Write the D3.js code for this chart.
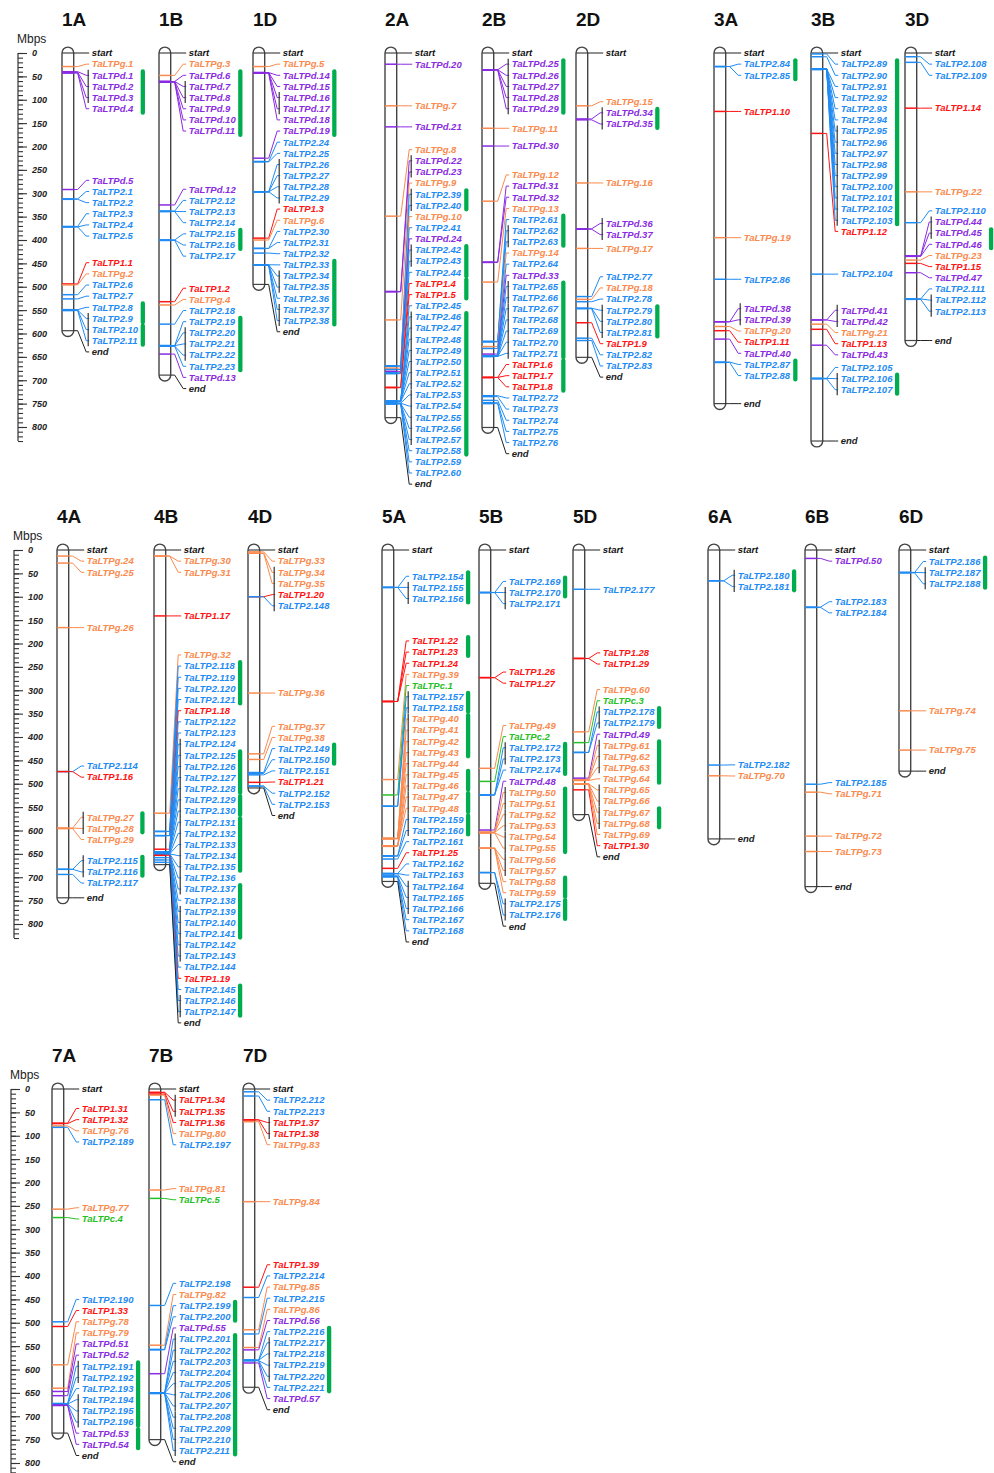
<!DOCTYPE html>
<html>
<head>
<meta charset="utf-8">
<script src="https://cdn.jsdelivr.net/npm/d3@7"></script>
<style>
body { margin: 0; background: #fff; }
text { font-family: "Liberation Sans", Arial, sans-serif; }
</style>
</head>
<body>
<div id="chart"></div>
<script>
// chromosomes and their lengths (Mbps)
const chromNames = ["1A","1B","1D","2A","2B","2D","3A","3B","3D","4A","4B","4D","5A","5B","5D","6A","6B","6D","7A","7B","7D"]
const chromLengths = [594,689,495,780,801,651,750,830,615,744,673,509,709,713,566,618,720,473,736,750,638]

// genes on each chromosome: [name, position in Mbps]
const genes1A = [["TaLTPg.1",29],["TaLTPd.1",40],["TaLTPd.2",41],["TaLTPd.3",42],["TaLTPd.4",43],
  ["TaLTPd.5",292],["TaLTP2.1",312],["TaLTP2.2",313],["TaLTP2.3",371],["TaLTP2.4",372],["TaLTP2.5",372],
  ["TaLTP1.1",494],["TaLTPg.2",496],["TaLTP2.6",517],["TaLTP2.7",526],
  ["TaLTP2.8",549],["TaLTP2.9",550],["TaLTP2.10",550],["TaLTP2.11",551]]
const genes1B = [["TaLTPg.3",48],["TaLTPd.6",61],["TaLTPd.7",61],["TaLTPd.8",61],["TaLTPd.9",62],["TaLTPd.10",62],["TaLTPd.11",62],
  ["TaLTPd.12",325],["TaLTP2.12",338],["TaLTP2.13",339],["TaLTP2.14",339],
  ["TaLTP2.15",400],["TaLTP2.16",400],["TaLTP2.17",401],
  ["TaLTP1.2",532],["TaLTPg.4",539],["TaLTP2.18",580],
  ["TaLTP2.19",626],["TaLTP2.20",626],["TaLTP2.21",626],["TaLTP2.22",627],["TaLTP2.23",627],["TaLTPd.13",644]]
const genes1D = [["TaLTPg.5",29],["TaLTPd.14",42],["TaLTPd.15",42],["TaLTPd.16",42],["TaLTPd.17",43],["TaLTPd.18",43],
  ["TaLTPd.19",225],["TaLTP2.24",232],["TaLTP2.25",233],
  ["TaLTP2.26",297],["TaLTP2.27",297],["TaLTP2.28",297],["TaLTP2.29",297],
  ["TaLTP1.3",396],["TaLTPg.6",400],["TaLTP2.30",418],["TaLTP2.31",418],["TaLTP2.32",428],
  ["TaLTP2.33",453],["TaLTP2.34",453],["TaLTP2.35",453],["TaLTP2.36",454],["TaLTP2.37",454],["TaLTP2.38",454]]
const genes2A = [["TaLTPd.20",24],["TaLTPg.7",113],["TaLTPd.21",158],["TaLTPg.8",349],
  ["TaLTPd.22",510],["TaLTPd.23",511],["TaLTPg.9",571],
  ["TaLTP2.39",669],["TaLTP2.40",670],["TaLTPg.10",674],["TaLTP2.41",677],["TaLTPd.24",681],
  ["TaLTP2.42",684],["TaLTP2.43",685],["TaLTP2.44",686],["TaLTP1.4",715],["TaLTP1.5",716],
  ["TaLTP2.45",745],["TaLTP2.46",745],["TaLTP2.47",745],["TaLTP2.48",745],["TaLTP2.49",745],["TaLTP2.50",745],
  ["TaLTP2.51",745],["TaLTP2.52",746],["TaLTP2.53",749],["TaLTP2.54",749],["TaLTP2.55",750],["TaLTP2.56",750],
  ["TaLTP2.57",750],["TaLTP2.58",750],["TaLTP2.59",750],["TaLTP2.60",750]]
const genes2B = [["TaLTPd.25",36],["TaLTPd.26",36],["TaLTPd.27",36],["TaLTPd.28",36],["TaLTPd.29",36],
  ["TaLTPg.11",161],["TaLTPd.30",199],["TaLTPg.12",317],["TaLTPd.31",447],["TaLTPd.32",448],["TaLTPg.13",490],
  ["TaLTP2.61",617],["TaLTP2.62",617],["TaLTP2.63",618],["TaLTPg.14",628],["TaLTP2.64",632],["TaLTPd.33",644],
  ["TaLTP2.65",648],["TaLTP2.66",648],["TaLTP2.67",648],["TaLTP2.68",648],["TaLTP2.69",649],["TaLTP2.70",649],["TaLTP2.71",649],
  ["TaLTP1.6",694],["TaLTP1.7",694],["TaLTP1.8",694],
  ["TaLTP2.72",733],["TaLTP2.73",735],["TaLTP2.74",743],["TaLTP2.75",748],["TaLTP2.76",750]]
const genes2D = [["TaLTPg.15",113],["TaLTPd.34",141],["TaLTPd.35",143],["TaLTPg.16",278],
  ["TaLTPd.36",376],["TaLTPd.37",377],["TaLTPg.17",418],
  ["TaLTP2.77",521],["TaLTPg.18",527],["TaLTP2.78",532],["TaLTP2.79",546],["TaLTP2.80",546],["TaLTP2.81",547],
  ["TaLTP1.9",577],["TaLTP2.82",610],["TaLTP2.83",615]]
const genes3A = [["TaLTP2.84",29],["TaLTP2.85",29],["TaLTP1.10",125],["TaLTPg.19",395],["TaLTP2.86",484],
  ["TaLTPd.38",575],["TaLTPd.39",575],["TaLTPg.20",585],["TaLTP1.11",594],["TaLTPd.40",612],
  ["TaLTP2.87",661],["TaLTP2.88",662]]
const genes3B = [["TaLTP2.89",2],["TaLTP2.90",8],["TaLTP2.91",34],["TaLTP2.92",34],["TaLTP2.93",34],["TaLTP2.94",34],
  ["TaLTP2.95",34],["TaLTP2.96",34],["TaLTP2.97",34],["TaLTP2.98",34],["TaLTP2.99",34],["TaLTP2.100",35],
  ["TaLTP2.101",35],["TaLTP2.102",35],["TaLTP2.103",35],["TaLTP1.12",172],["TaLTP2.104",473],
  ["TaLTPd.41",571],["TaLTPd.42",571],["TaLTPg.21",580],["TaLTP1.13",591],["TaLTPd.43",625],
  ["TaLTP2.105",696],["TaLTP2.106",696],["TaLTP2.107",697]]
const genes3D = [["TaLTP2.108",8],["TaLTP2.109",20],["TaLTP1.14",118],["TaLTPg.22",297],["TaLTP2.110",363],
  ["TaLTPd.44",434],["TaLTPd.45",434],["TaLTPd.46",435],["TaLTPg.23",443],["TaLTP1.15",450],["TaLTPd.47",470],
  ["TaLTP2.111",526],["TaLTP2.112",526],["TaLTP2.113",527]]
const genes4A = [["TaLTPg.24",13],["TaLTPg.25",28],["TaLTPg.26",166],["TaLTP2.114",474],["TaLTP1.16",474],
  ["TaLTPg.27",595],["TaLTPg.28",595],["TaLTPg.29",596],["TaLTP2.115",683],["TaLTP2.116",683],["TaLTP2.117",694]]
const genes4B = [["TaLTPg.30",13],["TaLTPg.31",13],["TaLTP1.17",141],["TaLTPg.32",563],
  ["TaLTP2.118",602],["TaLTP2.119",602],["TaLTP2.120",611],["TaLTP2.121",611],["TaLTP1.18",640],
  ["TaLTP2.122",646],["TaLTP2.123",646],["TaLTP2.124",646],["TaLTP2.125",646],["TaLTP2.126",646],
  ["TaLTP2.127",646],["TaLTP2.128",646],["TaLTP2.129",646],["TaLTP2.130",646],["TaLTP2.131",647],
  ["TaLTP2.132",650],["TaLTP2.133",650],["TaLTP2.134",650],["TaLTP2.135",650],["TaLTP2.136",650],
  ["TaLTP2.137",650],["TaLTP2.138",650],["TaLTP2.139",650],["TaLTP2.140",650],["TaLTP2.141",650],
  ["TaLTP2.142",651],["TaLTP2.143",651],["TaLTP2.144",651],["TaLTP1.19",653],
  ["TaLTP2.145",658],["TaLTP2.146",663],["TaLTP2.147",668]]
const genes4D = [["TaLTPg.33",4],["TaLTPg.34",7],["TaLTPg.35",7],["TaLTP1.20",100],["TaLTP2.148",100],
  ["TaLTPg.36",306],["TaLTPg.37",436],["TaLTPg.38",448],["TaLTP2.149",476],["TaLTP2.150",478],["TaLTP2.151",481],
  ["TaLTP1.21",497],["TaLTP2.152",505],["TaLTP2.153",505]]
const genes5A = [["TaLTP2.154",80],["TaLTP2.155",80],["TaLTP2.156",80],["TaLTP1.22",324],["TaLTP1.23",324],["TaLTP1.24",324],
  ["TaLTPg.39",491],["TaLTPc.1",524],["TaLTP2.157",548],["TaLTP2.158",548],
  ["TaLTPg.40",617],["TaLTPg.41",617],["TaLTPg.42",617],["TaLTPg.43",617],["TaLTPg.44",618],
  ["TaLTPg.45",633],["TaLTPg.46",633],["TaLTPg.47",633],["TaLTPg.48",634],
  ["TaLTP2.159",654],["TaLTP2.160",655],["TaLTP2.161",661],["TaLTP1.25",681],
  ["TaLTP2.162",692],["TaLTP2.163",692],["TaLTP2.164",693],["TaLTP2.165",697],["TaLTP2.166",698],["TaLTP2.167",699],["TaLTP2.168",699]]
const genes5B = [["TaLTP2.169",91],["TaLTP2.170",91],["TaLTP2.171",91],["TaLTP1.26",273],["TaLTP1.27",273],
  ["TaLTPg.49",467],["TaLTPc.2",495],["TaLTP2.172",524],["TaLTP2.173",524],["TaLTP2.174",524],["TaLTPd.48",599],
  ["TaLTPg.50",604],["TaLTPg.51",604],["TaLTPg.52",604],["TaLTPg.53",604],["TaLTPg.54",605],["TaLTPg.55",605],
  ["TaLTPg.56",638],["TaLTPg.57",638],["TaLTPg.58",638],["TaLTPg.59",638],["TaLTP2.175",690],["TaLTP2.176",690]]
const genes5D = [["TaLTP2.177",84],["TaLTP1.28",232],["TaLTP1.29",232],["TaLTPg.60",389],["TaLTPc.3",412],
  ["TaLTP2.178",433],["TaLTP2.179",433],["TaLTPd.49",488],
  ["TaLTPg.61",492],["TaLTPg.62",492],["TaLTPg.63",492],["TaLTPg.64",493],["TaLTPg.65",500],["TaLTPg.66",500],
  ["TaLTPg.67",500],["TaLTPg.68",501],["TaLTPg.69",501],["TaLTP1.30",513]]
const genes6A = [["TaLTP2.180",66],["TaLTP2.181",66],["TaLTP2.182",460],["TaLTPg.70",483]]
const genes6B = [["TaLTPd.50",18],["TaLTP2.183",122],["TaLTP2.184",123],["TaLTP2.185",501],["TaLTPg.71",518],
  ["TaLTPg.72",612],["TaLTPg.73",645]]
const genes6D = [["TaLTP2.186",48],["TaLTP2.187",48],["TaLTP2.188",49],["TaLTPg.74",344],["TaLTPg.75",428]]
const genes7A = [["TaLTP1.31",73],["TaLTP1.32",74],["TaLTPg.76",79],["TaLTP2.189",82],["TaLTPg.77",257],["TaLTPc.4",275],
  ["TaLTP2.190",498],["TaLTP1.33",508],["TaLTPg.78",590],["TaLTPg.79",640],["TaLTPd.51",647],["TaLTPd.52",656],
  ["TaLTP2.191",673],["TaLTP2.192",673],["TaLTP2.193",673],["TaLTP2.194",674],["TaLTP2.195",674],["TaLTP2.196",674],
  ["TaLTPd.53",676],["TaLTPd.54",677]]
const genes7B = [["TaLTP1.34",7],["TaLTP1.35",8],["TaLTP1.36",11],["TaLTPg.80",13],["TaLTP2.197",23],
  ["TaLTPg.81",216],["TaLTPc.5",234],["TaLTP2.198",463],["TaLTPg.82",548],["TaLTP2.199",557],["TaLTP2.200",558],
  ["TaLTPd.55",609],["TaLTP2.201",650],["TaLTP2.202",650],["TaLTP2.203",650],["TaLTP2.204",650],["TaLTP2.205",650],
  ["TaLTP2.206",650],["TaLTP2.207",650],["TaLTP2.208",651],["TaLTP2.209",651],["TaLTP2.210",651],["TaLTP2.211",651]]
const genes7D = [["TaLTP2.212",6],["TaLTP2.213",15],["TaLTP1.37",66],["TaLTP1.38",66],["TaLTPg.83",70],["TaLTPg.84",241],
  ["TaLTP1.39",424],["TaLTP2.214",446],["TaLTPg.85",515],["TaLTP2.215",524],["TaLTPg.86",553],["TaLTPd.56",558],
  ["TaLTP2.216",580],["TaLTP2.217",580],["TaLTP2.218",580],["TaLTP2.219",581],["TaLTP2.220",581],["TaLTP2.221",581],
  ["TaLTPd.57",586]]

const geneSets = [genes1A,genes1B,genes1D,genes2A,genes2B,genes2D,genes3A,genes3B,genes3D,
  genes4A,genes4B,genes4D,genes5A,genes5B,genes5D,genes6A,genes6B,genes6D,genes7A,genes7B,genes7D]

// segmental duplication brackets: [chromosome, first gene, last gene]
const segmental = [
  ["1A","TaLTPd.1","TaLTPd.3"],["1A","TaLTP2.9","TaLTP2.11"],
  ["1B","TaLTPd.7","TaLTPd.8"],["1B","TaLTP2.20","TaLTP2.22"],
  ["1D","TaLTPd.16","TaLTPd.17"],["1D","TaLTP2.26","TaLTP2.29"],["1D","TaLTP2.34","TaLTP2.35"],["1D","TaLTP2.37","TaLTP2.38"],
  ["2A","TaLTPd.22","TaLTPd.23"],["2A","TaLTP2.39","TaLTP2.40"],["2A","TaLTP2.42","TaLTP2.43"],["2A","TaLTP2.46","TaLTP2.52"],["2A","TaLTP2.53","TaLTP2.57"],
  ["2B","TaLTPd.25","TaLTPd.29"],["2B","TaLTP2.62","TaLTP2.63"],["2B","TaLTP2.65","TaLTP2.66"],["2B","TaLTP2.67","TaLTP2.71"],
  ["2D","TaLTPd.34","TaLTPd.35"],["2D","TaLTPd.36","TaLTPd.37"],["2D","TaLTP2.79","TaLTP2.81"],
  ["3A","TaLTPd.38","TaLTPd.39"],
  ["3B","TaLTP2.95","TaLTP2.96"],["3B","TaLTP2.97","TaLTP2.103"],["3B","TaLTPd.41","TaLTPd.42"],["3B","TaLTP2.106","TaLTP2.107"],
  ["3D","TaLTPd.44","TaLTPd.45"],["3D","TaLTP2.112","TaLTP2.113"],
  ["4A","TaLTPg.27","TaLTPg.28"],["4A","TaLTP2.115","TaLTP2.116"],
  ["4B","TaLTP2.124","TaLTP2.126"],["4B","TaLTP2.127","TaLTP2.131"],["4B","TaLTP2.132","TaLTP2.137"],["4B","TaLTP2.139","TaLTP2.141"],["4B","TaLTP2.142","TaLTP2.143"],["4B","TaLTP2.146","TaLTP2.147"],
  ["4D","TaLTPg.34","TaLTPg.35"],["4D","TaLTP1.20","TaLTP2.148"],
  ["5A","TaLTP2.155","TaLTP2.156"],["5A","TaLTP2.157","TaLTP2.158"],["5A","TaLTPg.40","TaLTPg.43"],["5A","TaLTPg.44","TaLTPg.46"],["5A","TaLTPg.47","TaLTPg.48"],["5A","TaLTP2.159","TaLTP2.160"],["5A","TaLTP2.164","TaLTP2.166"],
  ["5B","TaLTP2.170","TaLTP2.171"],["5B","TaLTP2.172","TaLTP2.173"],["5B","TaLTPg.50","TaLTPg.51"],["5B","TaLTPg.52","TaLTPg.53"],["5B","TaLTPg.54","TaLTPg.55"],["5B","TaLTPg.56","TaLTPg.57"],["5B","TaLTP2.175","TaLTP2.176"],
  ["5D","TaLTP2.178","TaLTP2.179"],["5D","TaLTPg.61","TaLTPg.63"],["5D","TaLTPg.65","TaLTPg.66"],["5D","TaLTPg.67","TaLTPg.68"],
  ["6A","TaLTP2.180","TaLTP2.181"],["6D","TaLTP2.187","TaLTP2.188"],
  ["7A","TaLTP2.191","TaLTP2.192"],["7A","TaLTP2.194","TaLTP2.196"],
  ["7B","TaLTP1.34","TaLTP1.35"],["7B","TaLTP2.201","TaLTP2.203"],["7B","TaLTP2.204","TaLTP2.207"],["7B","TaLTP2.208","TaLTP2.211"],
  ["7D","TaLTP1.37","TaLTP1.38"],["7D","TaLTP2.217","TaLTP2.218"],["7D","TaLTP2.219","TaLTP2.220"]
]

// tandem duplication clusters (green bars): [chromosome, first gene, last gene]
const tandem = [
  ["1A","TaLTPd.1","TaLTPd.4"],["1A","TaLTP2.8","TaLTP2.9"],["1A","TaLTP2.10","TaLTP2.11"],
  ["1B","TaLTPd.6","TaLTPd.11"],["1B","TaLTP2.15","TaLTP2.16"],["1B","TaLTP2.19","TaLTP2.23"],
  ["1D","TaLTPd.14","TaLTPd.19"],["1D","TaLTP2.33","TaLTP2.38"],
  ["2A","TaLTP2.39","TaLTP2.40"],["2A","TaLTP2.42","TaLTP2.44"],["2A","TaLTP1.4","TaLTP1.5"],["2A","TaLTP2.46","TaLTP2.58"],
  ["2B","TaLTPd.25","TaLTPd.29"],["2B","TaLTP2.61","TaLTP2.63"],["2B","TaLTP2.65","TaLTP2.71"],["2B","TaLTP1.6","TaLTP1.8"],
  ["2D","TaLTPd.34","TaLTPd.35"],["2D","TaLTP2.79","TaLTP2.81"],
  ["3A","TaLTP2.84","TaLTP2.85"],["3A","TaLTP2.87","TaLTP2.88"],
  ["3B","TaLTP2.89","TaLTP2.103"],["3B","TaLTP2.106","TaLTP2.107"],
  ["3D","TaLTPd.45","TaLTPd.46"],
  ["4A","TaLTPg.27","TaLTPg.28"],["4A","TaLTP2.115","TaLTP2.116"],
  ["4B","TaLTP2.118","TaLTP2.121"],["4B","TaLTP2.125","TaLTP2.128"],["4B","TaLTP2.129","TaLTP2.130"],["4B","TaLTP2.131","TaLTP2.135"],["4B","TaLTP2.137","TaLTP2.141"],["4B","TaLTP2.145","TaLTP2.147"],
  ["4D","TaLTP2.149","TaLTP2.150"],
  ["5A","TaLTP2.154","TaLTP2.156"],["5A","TaLTP1.22","TaLTP1.23"],["5A","TaLTP2.157","TaLTP2.158"],["5A","TaLTPg.40","TaLTPg.43"],["5A","TaLTPg.45","TaLTPg.46"],["5A","TaLTPg.47","TaLTPg.48"],["5A","TaLTP2.159","TaLTP2.160"],
  ["5B","TaLTP2.169","TaLTP2.170"],["5B","TaLTP2.172","TaLTP2.174"],["5B","TaLTPg.50","TaLTPg.55"],["5B","TaLTPg.58","TaLTPg.59"],["5B","TaLTP2.175","TaLTP2.176"],
  ["5D","TaLTP2.178","TaLTP2.179"],["5D","TaLTPg.61","TaLTPg.64"],["5D","TaLTPg.67","TaLTPg.68"],
  ["6A","TaLTP2.180","TaLTP2.181"],["6D","TaLTP2.186","TaLTP2.188"],
  ["7A","TaLTP2.191","TaLTP2.196"],["7A","TaLTPd.53","TaLTPd.54"],
  ["7B","TaLTP2.199","TaLTP2.200"],["7B","TaLTP2.201","TaLTP2.211"],
  ["7D","TaLTP2.216","TaLTP2.221"]
]

const axisMax = 830

// layout
const width = 994, height = 1473
const rowZero = [53, 550, 1089]       // y of 0 Mbps in each figure row
const axisX = [18, 14, 11]
const groupX = [[62, 385, 714], [57, 382, 708], [52]]
const colStep = [0, 97, 191]
const pxPerMb = 0.4675
const chrW = 11.7
const labelGap = 18
const spacing = 11.15

function geneColor(name) {
  if (name.startsWith("TaLTP1.")) return "#ff1414"
  if (name.startsWith("TaLTP2.")) return "#1f8bf3"
  if (name.startsWith("TaLTPd")) return "#8a2be2"
  if (name.startsWith("TaLTPg")) return "#fa8a4e"
  if (name.startsWith("TaLTPc")) return "#26c026"
  return "#222"
}

// group overlapping labels, centre each group on the middle of its loci,
// keep the first label below the fixed "start" label
function placeLabels(desired, top, s) {
  let cl = desired.map((d, i) => ({ lo: d, hi: d, start: i, n: 1 }))
  let topOf = c => {
    let t = (c.lo + c.hi) / 2 - (c.n - 1) * s / 2
    return Math.max(t, top + s + c.start * s)
  }
  let merged = true
  while (merged) {
    merged = false
    for (let k = 0; k < cl.length - 1; k++) {
      let a = cl[k], b = cl[k + 1]
      if (topOf(a) + a.n * s > topOf(b) + 1e-6) {
        cl.splice(k, 2, { lo: Math.min(a.lo, b.lo), hi: Math.max(a.hi, b.hi), start: a.start, n: a.n + b.n })
        merged = true
        break
      }
    }
  }
  let out = []
  cl.forEach(c => {
    let t = topOf(c)
    for (let k = 0; k < c.n; k++) out.push(t + k * s)
  })
  return out
}

let svg = d3.select("#chart")
  .append("svg")
  .attr("width", width)
  .attr("height", height)

let yScales = rowZero.map(y0 => d3.scaleLinear().domain([0, 800]).range([y0, y0 + 800 * pxPerMb]))

// Mbps axes
yScales.forEach((y, r) => {
  let g = svg.append("g").attr("transform", "translate(" + axisX[r] + ",0)")
  g.append("text")
    .attr("x", -1).attr("y", rowZero[r] - 10)
    .style("font-size", "12px").style("fill", "#222")
    .text("Mbps")
  g.append("line")
    .attr("y1", y(0)).attr("y2", y(axisMax))
    .attr("stroke", "#333").attr("stroke-width", 1.2)
  g.append("g")
    .call(d3.axisRight(y).tickValues(d3.range(0, axisMax + 1, 10)).tickSize(5).tickFormat(""))
    .call(a => a.select(".domain").remove())
  g.append("g")
    .call(d3.axisRight(y).tickValues(d3.range(0, 801, 50)).tickSize(9).tickPadding(5))
    .call(a => a.select(".domain").remove())
    .call(a => a.selectAll("text")
      .style("font-size", "9px").style("font-weight", "bold").style("font-style", "italic")
      .style("font-family", "'Liberation Sans', Arial, sans-serif").attr("fill", "#222"))
  g.selectAll(".tick line").attr("stroke", "#333").attr("stroke-width", 1.1)
})

chromNames.forEach((name, i) => {
  let group = Math.floor(i / 3), row = Math.floor(group / 3)
  let xl = groupX[row][group % 3] + colStep[i % 3]
  let xr = xl + chrW, rad = chrW / 2
  let y = yScales[row]
  let len = chromLengths[i]
  let genes = geneSets[i]
  let labelX = xr + labelGap
  let g = svg.append("g").attr("class", "chrom")

  g.append("text")
    .attr("x", xl).attr("y", y(0) - 27.3)
    .style("font-size", "19px").style("font-weight", "bold").attr("fill", "#111")
    .text(name)

  // chromosome body
  let y0 = y(0), y1 = y(len)
  g.append("path")
    .attr("d", "M" + xl + "," + y0 + "V" + y1 + "A" + rad + "," + rad + " 0 0 0 " + xr + "," + y1 +
      "V" + y0 + "A" + rad + "," + rad + " 0 0 0 " + xl + "," + y0 + "Z")
    .attr("fill", "#fff").attr("stroke", "#444").attr("stroke-width", 1.4)
  g.selectAll(".cap").data([0, len]).enter().append("line")
    .attr("x1", xl).attr("x2", xr).attr("y1", d => y(d)).attr("y2", d => y(d))
    .attr("stroke", "#444").attr("stroke-width", 1.2)

  // labels (genes + end)
  let items = genes.map(d => ({ name: d[0], pos: d[1], color: geneColor(d[0]) }))
  items.push({ name: "end", pos: len, color: "#222" })
  let ly = placeLabels(items.map(d => y(d.pos)), y0, spacing)
  items.forEach((d, k) => d.ly = ly[k])

  g.selectAll(".band").data(genes).enter().append("line")
    .attr("x1", xl).attr("x2", xr)
    .attr("y1", d => y(d[1])).attr("y2", d => y(d[1]))
    .attr("stroke", d => geneColor(d[0])).attr("stroke-width", 1.5)

  g.append("line")
    .attr("x1", xr).attr("x2", labelX - 2.5).attr("y1", y0).attr("y2", y0)
    .attr("stroke", "#222").attr("stroke-width", 1)
  g.append("text")
    .attr("x", labelX).attr("y", y0).attr("dy", "0.35em")
    .style("font-size", "9.5px").style("font-weight", "bold").style("font-style", "italic")
    .attr("fill", "#111").text("start")

  g.selectAll(".conn").data(items).enter().append("path")
    .attr("d", d => "M" + xr + "," + y(d.pos) + "H" + (xr + 4) + "L" + (labelX - 5.5) + "," + d.ly + "H" + (labelX - 2.5))
    .attr("fill", "none").attr("stroke", d => d.color).attr("stroke-width", 1)

  let labels = g.selectAll(".lab").data(items).enter().append("text")
    .attr("x", labelX).attr("y", d => d.ly).attr("dy", "0.35em")
    .style("font-size", "9.5px").style("font-weight", "bold").style("font-style", "italic")
    .attr("fill", d => d.color)
    .text(d => d.name)
  let maxW = d3.max(labels.nodes().filter((n, k) => k < genes.length), n => n.getComputedTextLength())

  let labY = name2 => items.find(d => d.name === name2).ly
  segmental.filter(d => d[0] === name).forEach(d => {
    g.append("line")
      .attr("x1", labelX - 3.5).attr("x2", labelX - 3.5)
      .attr("y1", labY(d[1]) - 5.5).attr("y2", labY(d[2]) + 5.5)
      .attr("stroke", "#333").attr("stroke-width", 1.2)
  })
  tandem.filter(d => d[0] === name).forEach(d => {
    g.append("rect")
      .attr("x", labelX + maxW + 2.5).attr("width", 4.3)
      .attr("y", labY(d[1]) - 6).attr("height", labY(d[2]) - labY(d[1]) + 12)
      .attr("rx", 2.1).attr("fill", "#00ad4e")
  })
})
</script>
</body>
</html>
